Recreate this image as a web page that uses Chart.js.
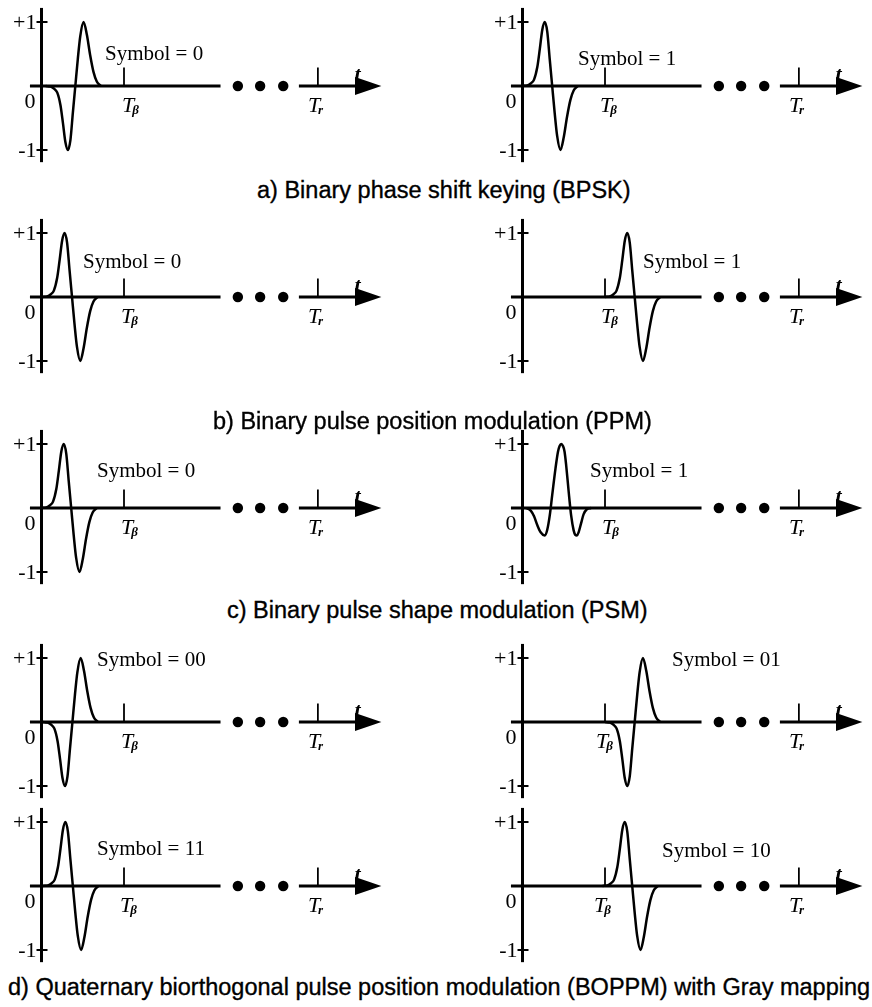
<!DOCTYPE html>
<html>
<head>
<meta charset="utf-8">
<script src="https://cdn.jsdelivr.net/npm/chart.js@4.4.1/dist/chart.umd.min.js"></script>
<style>
    html, body { margin: 0; padding: 0; background: #fff; }
    #figure { position: relative; width: 872px; height: 1007px; overflow: hidden; background: #fff; }
    #figure canvas { position: absolute; }
    .caption {
        position: absolute;
        white-space: nowrap;
        font-family: "Liberation Sans", Arial, sans-serif;
        font-size: 23.5px;
        line-height: 23.5px;
        color: #000;
        -webkit-text-stroke: 0.35px #000;
    }
</style>
</head>
<body>
<div id="figure"></div>
<script>
// Time is in units of T_beta, amplitude is normalised to +-1

// Gaussian monocycle (positive lobe first)
const monoTime  = [0, 0.06, 0.10, 0.14, 0.18, 0.21, 0.24, 0.27, 0.30, 0.33, 0.36, 0.39, 0.42, 0.46, 0.50, 0.54, 0.58, 0.62, 0.67];
const monoShape = [0, 0.01, 0.04, 0.10, 0.30, 0.58, 0.88, 1.00, 0.85, 0.42, 0.00, -0.42, -0.78, -1.00, -0.80, -0.48, -0.22, -0.07, 0];

// second pulse shape used for PSM symbol 1
const psmTime  = [0, 0.06, 0.10, 0.14, 0.18, 0.23, 0.26, 0.29, 0.32, 0.36, 0.39, 0.41, 0.43, 0.45, 0.47, 0.49, 0.52, 0.55, 0.58, 0.60, 0.62, 0.64, 0.67, 0.70, 0.74, 0.79];
const psmShape = [0, -0.04, -0.13, -0.27, -0.38, -0.43, -0.34, -0.12, 0.20, 0.62, 0.88, 0.97, 1.00, 0.97, 0.88, 0.66, 0.25, -0.12, -0.35, -0.42, -0.43, -0.38, -0.24, -0.10, -0.02, 0];

// one entry per panel: a0 a1 b0 b1 c0 c1 d00 d01 d11 d10
const symbolLabels = ['0', '1', '0', '1', '0', '1', '00', '01', '11', '10'];
const pulseKind    = ['mono', 'mono', 'mono', 'mono', 'mono', 'psm', 'mono', 'mono', 'mono', 'mono'];
const pulseSign    = [-1, 1, 1, 1, 1, 1, -1, -1, 1, 1];
const pulseStart   = [0.05, 0, 0.01, 1.0, 0, 0.04, 0.015, 1.0, 0.02, 0.97];

const yTickValues = [1, 0, -1];
const yTickLabels = ['+1', '0', '-1'];
const markTimes   = [1, 3.35];
const markSubs    = ['β', 'r'];
const gapDots     = [2.38, 2.65, 2.93];

const captions = [
    'a) Binary phase shift keying (BPSK)',
    'b) Binary pulse position modulation (PPM)',
    'c) Binary pulse shape modulation (PSM)',
    'd) Quaternary biorthogonal pulse position modulation (BOPPM) with Gray mapping'
];

// ---- layout ----
const PX_PER_T = 82.5;
const PX_PER_V = 64;
const CANVAS_W = 391;
const CANVAS_H = 170;
const AXIS_X = 41.5;
const ZERO_Y = 86;
const SERIF = '"Liberation Serif", "Times New Roman", serif';

// canvas placement, "Symbol = .." position and T_beta label nudge for each panel
const panelPos = [
    { left: 0,   top: 0,   sx: 105, sy: 60, tb: -2 },
    { left: 481, top: 0,   sx: 97,  sy: 65, tb: -5 },
    { left: 0,   top: 211, sx: 83,  sy: 57, tb: -3 },
    { left: 481, top: 211, sx: 162, sy: 57, tb: -4 },
    { left: 0,   top: 422, sx: 97,  sy: 55, tb: -3 },
    { left: 481, top: 422, sx: 109, sy: 55, tb: -3 },
    { left: 0,   top: 636, sx: 97,  sy: 30, tb: -3 },
    { left: 481, top: 636, sx: 191, sy: 30, tb: -9 },
    { left: 0,   top: 800, sx: 97,  sy: 55, tb: -4 },
    { left: 481, top: 800, sx: 181, sy: 57, tb: -11 }
];

const captionPos = [
    { left: 257, top: 179 },
    { left: 213, top: 410 },
    { left: 227, top: 599 },
    { left: 8,   top: 976 }
];

const figure = document.getElementById('figure');

function line(ctx, x1, y1, x2, y2) {
    ctx.beginPath();
    ctx.moveTo(x1, y1);
    ctx.lineTo(x2, y2);
    ctx.stroke();
}

// draws the axes, the T_beta / T_r marks, the break dots and all panel text
function framePlugin(i) {
    const pos = panelPos[i];
    return {
        id: 'pulseFrame',
        beforeDatasetsDraw(chart) {
            const { ctx } = chart;
            const x = chart.scales.x;
            const y = chart.scales.y;
            const x0 = x.getPixelForValue(0);
            const y0 = y.getPixelForValue(0);

            ctx.save();
            ctx.strokeStyle = '#000';
            ctx.fillStyle = '#000';
            ctx.lineCap = 'butt';

            // time axis, broken by the dots, then the arrow
            ctx.lineWidth = 3;
            line(ctx, x.getPixelForValue(-0.14), y0, x.getPixelForValue(2.17), y0);
            line(ctx, x.getPixelForValue(3.12), y0, x.getPixelForValue(3.84), y0);
            const tip = x.getPixelForValue(4.12);
            const base = x.getPixelForValue(3.8);
            ctx.beginPath();
            ctx.moveTo(tip, y0);
            ctx.lineTo(base, y0 - 9);
            ctx.lineTo(base, y0 + 9);
            ctx.closePath();
            ctx.fill();

            gapDots.forEach(t => {
                ctx.beginPath();
                ctx.arc(x.getPixelForValue(t), y0, 5.2, 0, Math.PI * 2);
                ctx.fill();
            });

            // amplitude axis
            line(ctx, x0, y.getPixelForValue(1.22), x0, y.getPixelForValue(-1.19));

            ctx.font = '22px ' + SERIF;
            ctx.textAlign = 'right';
            ctx.textBaseline = 'middle';
            yTickValues.forEach((v, k) => {
                const py = y.getPixelForValue(v);
                if (v !== 0) {
                    ctx.lineWidth = 2;
                    line(ctx, x0 - 5, py, x0 + 6, py);
                    ctx.fillText(yTickLabels[k], x0 - 5, py + 1);
                } else {
                    ctx.fillText(yTickLabels[k], x0 - 6, py + 16);
                }
            });

            // T_beta and T_r
            markTimes.forEach((t, k) => {
                const px = x.getPixelForValue(t);
                ctx.lineWidth = 1.8;
                line(ctx, px, y0, px, y0 - 18.5);
                const lx = px + (k === 0 ? pos.tb : -10);
                ctx.textAlign = 'left';
                ctx.textBaseline = 'alphabetic';
                ctx.font = 'italic 22px ' + SERIF;
                ctx.fillText('T', lx, y0 + 25.5);
                const w = ctx.measureText('T').width;
                ctx.font = 'italic bold 13px ' + SERIF;
                ctx.fillText(markSubs[k], lx + w - 2, y0 + 28);
            });

            ctx.font = 'italic bold 22px ' + SERIF;
            ctx.textAlign = 'center';
            ctx.fillText('t', x.getPixelForValue(3.83), y0 - 5);

            ctx.font = '21px ' + SERIF;
            ctx.textAlign = 'left';
            ctx.fillText('Symbol = ' + symbolLabels[i], pos.sx, pos.sy);

            ctx.restore();
        }
    };
}

function buildPanel(i) {
    const pos = panelPos[i];
    const canvas = document.createElement('canvas');
    canvas.width = CANVAS_W;
    canvas.height = CANVAS_H;
    canvas.style.left = pos.left + 'px';
    canvas.style.top = pos.top + 'px';
    figure.appendChild(canvas);

    const times = pulseKind[i] === 'psm' ? psmTime : monoTime;
    const shape = pulseKind[i] === 'psm' ? psmShape : monoShape;
    const points = times.map((t, k) => ({ x: t + pulseStart[i], y: shape[k] * pulseSign[i] }));

    return new Chart(canvas, {
        type: 'scatter',
        data: {
            datasets: [{
                label: 'Symbol = ' + symbolLabels[i],
                data: points,
                showLine: true,
                borderColor: '#000',
                borderWidth: 2.5,
                pointRadius: 0,
                cubicInterpolationMode: 'monotone'
            }]
        },
        options: {
            responsive: false,
            animation: false,
            devicePixelRatio: 1,
            events: [],
            layout: { padding: 0 },
            plugins: {
                legend: { display: false },
                tooltip: { enabled: false }
            },
            scales: {
                x: {
                    type: 'linear',
                    display: false,
                    min: -AXIS_X / PX_PER_T,
                    max: (CANVAS_W - AXIS_X) / PX_PER_T
                },
                y: {
                    type: 'linear',
                    display: false,
                    min: -(CANVAS_H - ZERO_Y) / PX_PER_V,
                    max: ZERO_Y / PX_PER_V
                }
            }
        },
        plugins: [framePlugin(i)]
    });
}

symbolLabels.forEach((s, i) => buildPanel(i));

captions.forEach((text, k) => {
    const div = document.createElement('div');
    div.className = 'caption';
    div.textContent = text;
    div.style.left = captionPos[k].left + 'px';
    div.style.top = captionPos[k].top + 'px';
    figure.appendChild(div);
});
</script>
</body>
</html>
